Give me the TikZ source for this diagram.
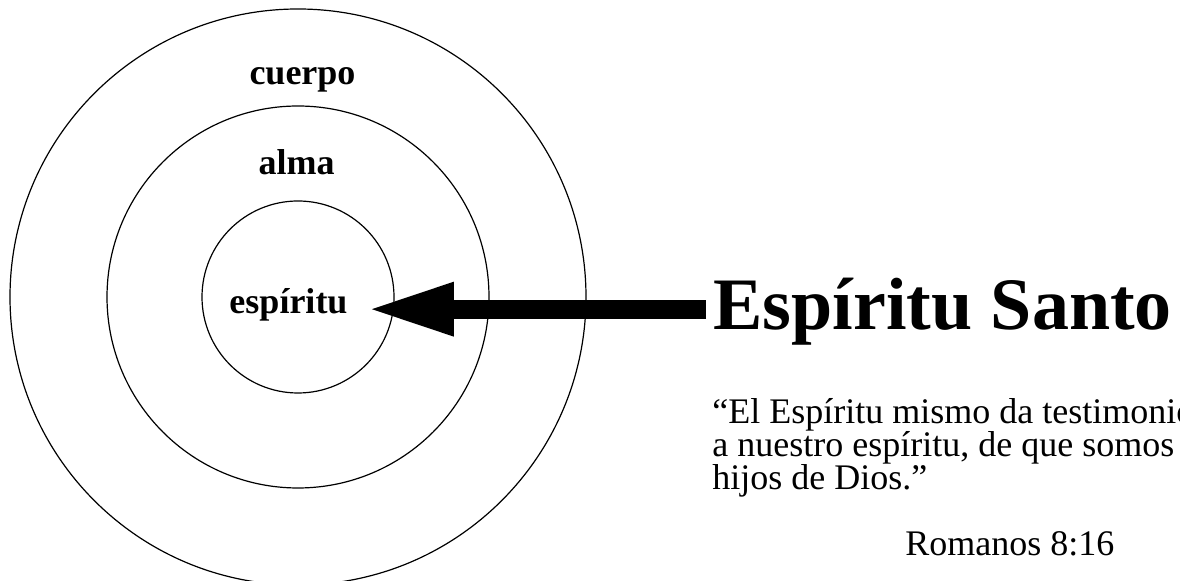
\documentclass[tikz,border=0pt]{standalone}
\usepackage{fontspec}
\setmainfont{Liberation Serif}
\usetikzlibrary{arrows.meta}

\tikzset{
    ring/.style={draw=black, line width=0.6pt},
    lbl/.style={font=\fontsize{18}{20}\selectfont\bfseries, inner sep=0pt},
    verse/.style={font=\fontsize{18}{16.5}\selectfont, inner sep=0pt, align=left},
    bigarrow/.style={line width=9.5pt, -{Triangle[length=41pt, width=27.5pt, line width=0pt]}}
}

\begin{document}
\begin{tikzpicture}[x=0.5pt, y=-0.5pt]
    \clip (0,0) rectangle (1180,581);
    \fill[white] (0,0) rectangle (1180,581);

    % the three circles
    \draw[ring] (298,297) circle (144pt);
    \draw[ring] (298,297) circle (95.5pt);
    \draw[ring] (298,297) circle (48pt);

    \node[lbl, anchor=base] (cuerpo) at (302.5,84.5) {cuerpo};
    \node[lbl, anchor=base] (alma) at (296.5,175) {alma};
    \node[lbl, anchor=base, inner xsep=12pt] (esp) at (288.5,314) {espíritu};

    \node[font=\fontsize{37}{40}\selectfont\bfseries, inner sep=0pt, anchor=base west] (santo) at (713,330) {Espíritu Santo};
    \draw[bigarrow, shorten <=3.5pt] ([yshift=1.5pt]santo.west) -- ([yshift=1.5pt]esp.east |- santo.west);

    % verse
    \node[verse, anchor=north west] (verso) at (712,398) {``El Espíritu mismo da testimonio\\a nuestro espíritu, de que somos\\hijos de Dios.''};
    \node[verse, anchor=base west] (ref) at (905,556) {Romanos 8:16};
\end{tikzpicture}
\end{document}
